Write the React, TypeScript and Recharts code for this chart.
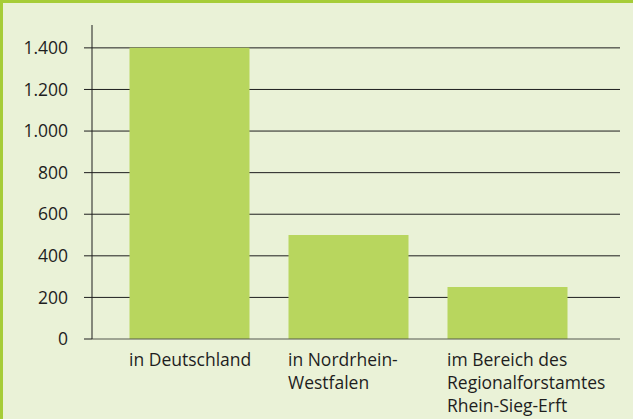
import { Bar, BarChart, CartesianGrid, XAxis, YAxis } from "recharts";

const categories = ["in Deutschland", "in Nordrhein-Westfalen", "im Bereich des Regionalforstamtes Rhein-Sieg-Erft"];
const categoryLines = [
  ["in Deutschland"],
  ["in Nordrhein-", "Westfalen"],
  ["im Bereich des", "Regionalforstamtes", "Rhein-Sieg-Erft"],
];
const values = [1400, 500, 250];
const yTicks = [0, 200, 400, 600, 800, 1000, 1200, 1400];

const BAR_SIZE = 120;
const FONT = "'Open Sans', Roboto, sans-serif";

const formatThousands = (v: number) => v.toLocaleString("de-DE");

function CategoryTick(props: any) {
  const { x, y, payload } = props;
  const idx = categories.indexOf(payload.value);
  const lines = categoryLines[idx] ?? [payload.value];
  return (
    <text x={x - BAR_SIZE / 2} y={y + 19} textAnchor="start" fontSize={17.5} fill="#1e1e1e" fontFamily={FONT}>
      {lines.map((line, i) => (
        <tspan key={i} x={x - BAR_SIZE / 2} dy={i === 0 ? 0 : 23}>
          {line}
        </tspan>
      ))}
    </text>
  );
}

export default function App() {
  const data = categories.map((name, i) => ({ name, value: values[i] }));

  return (
    <div
      style={{
        position: "absolute",
        top: 0,
        left: 0,
        width: 633,
        height: 419,
        background: "#eaf2d7",
        boxSizing: "border-box",
        borderTop: "3px solid #a6cd38",
        borderLeft: "3px solid #a6cd38",
        overflow: "hidden",
      }}
    >
      <div style={{ position: "absolute", top: -3, left: -3 }}>
        <BarChart width={633} height={419} data={data} margin={{ top: 25, right: 13, bottom: 0, left: 0 }}>
          <CartesianGrid
            horizontal
            vertical={false}
            horizontalValues={yTicks.slice(1)}
            stroke="#1e1e1e"
            strokeWidth={1}
          />
          <XAxis
            dataKey="name"
            height={80}
            padding={{ left: 17.5, right: 33.5 }}
            axisLine={{ stroke: "#55594f", strokeWidth: 1 }}
            tickLine={false}
            interval={0}
            tick={<CategoryTick />}
          />
          <YAxis
            width={92}
            domain={[0, 1510]}
            ticks={yTicks}
            interval={0}
            tickFormatter={formatThousands}
            tickSize={8}
            tickMargin={16}
            axisLine={{ stroke: "#1e1e1e" }}
            tickLine={{ stroke: "#1e1e1e" }}
            tick={{ fontSize: 17.5, fill: "#1e1e1e", fontFamily: FONT }}
          />
          <Bar dataKey="value" fill="#b8d65e" barSize={BAR_SIZE} isAnimationActive={false} />
        </BarChart>
      </div>
    </div>
  );
}
